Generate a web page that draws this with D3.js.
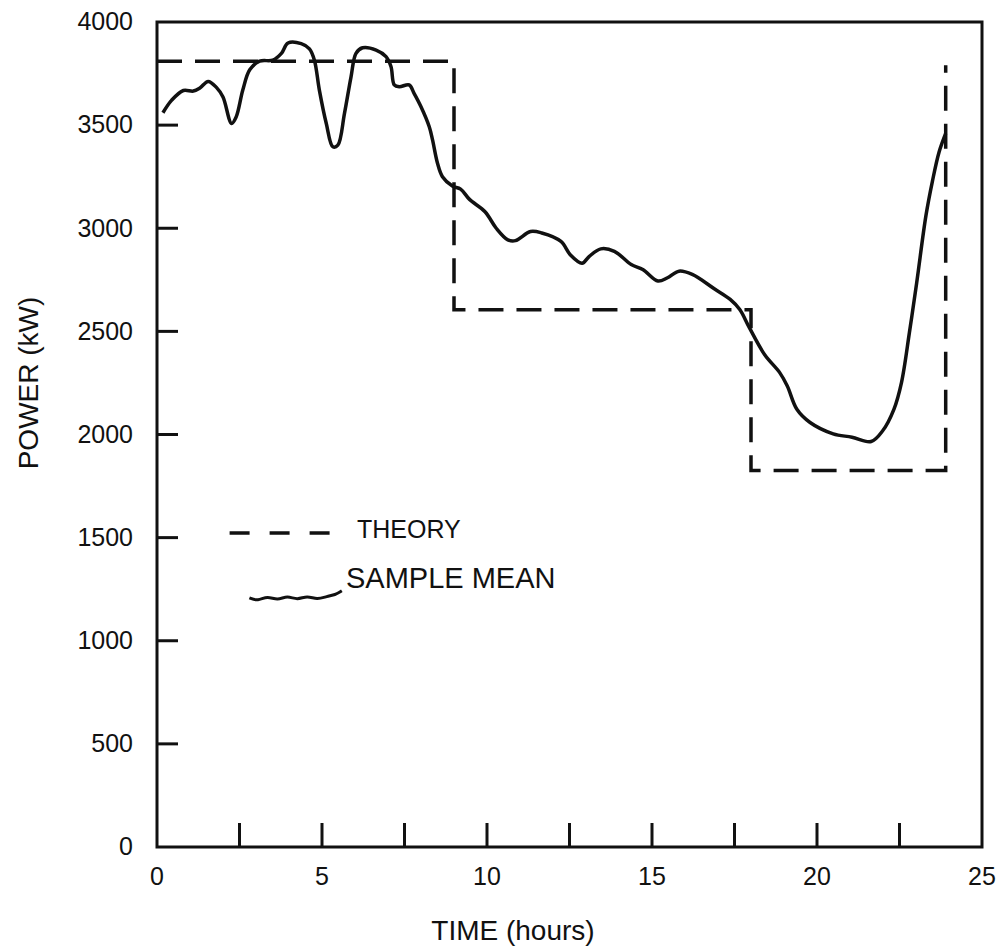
<!DOCTYPE html>
<html>
<head>
<meta charset="utf-8">
<script src="https://cdn.jsdelivr.net/npm/d3@7"></script>
<style>
  body { margin: 0; background: #fff; }
  text { font-family: "Liberation Sans", Arial, sans-serif; fill: #111; }
</style>
</head>
<body>
<div id="chart"></div>
<script>
// Theory (dashed step curve)
const theoryHours = [0, 9, 9, 18, 18, 23.9, 23.9];
const theoryPower = [3810, 3810, 2605, 2605, 1825, 1825, 3790];

// Sample mean (solid curve)
const sampleHours = [0.18, 0.44, 0.8, 1.1, 1.3, 1.55, 1.8, 2.0, 2.26, 2.4, 2.6, 2.81, 3.11, 3.51, 3.77, 3.97,
  4.37, 4.62, 4.77, 4.92, 5.13, 5.33, 5.48, 5.68, 5.88, 6.03, 6.23, 6.64, 6.94, 7.09, 7.19, 7.34, 7.64,
  7.79, 8.0, 8.25, 8.35, 8.5, 8.65, 8.95, 9.2, 9.47, 9.94, 10.28, 10.63, 10.86, 11.32, 11.66, 12.24,
  12.53, 12.88, 13.1, 13.45, 13.86, 14.37, 14.72, 15.18, 15.47, 15.82, 16.22, 16.91, 17.37, 17.66,
  17.95, 18.41, 18.87, 19.1, 19.39, 19.79, 20.49, 21.06, 21.64, 21.99, 22.33, 22.56, 22.8, 23.02,
  23.3, 23.5, 23.7, 23.9];
const samplePower = [3560, 3620, 3668, 3665, 3680, 3712, 3683, 3636, 3508, 3540, 3670, 3768, 3810, 3815, 3848, 3898,
  3895, 3870, 3815, 3670, 3508, 3395, 3403, 3556, 3734, 3848, 3875, 3864, 3832, 3784, 3695, 3686, 3695,
  3654, 3589, 3492, 3428, 3315, 3250, 3205, 3190, 3140, 3080, 3000, 2944, 2940, 2984, 2977, 2936,
  2870, 2830, 2864, 2900, 2888, 2824, 2800, 2744, 2760, 2792, 2776, 2704, 2655, 2606,
  2518, 2388, 2300, 2235, 2122, 2058, 2003, 1987, 1966, 2018, 2122, 2252, 2494, 2735,
  3060, 3230, 3370, 3460];

// Legend glyphs, in data units
const legendDashHours = [2.2, 5.25];
const legendDashPower = [1522, 1522];
const legendWaveHours = [2.8, 3.05, 3.35, 3.65, 3.95, 4.25, 4.55, 4.85, 5.15, 5.4, 5.6];
const legendWavePower = [1208, 1192, 1218, 1194, 1220, 1196, 1220, 1198, 1216, 1222, 1242];

// Tick values
const xTickLabels = [0, 5, 10, 15, 20, 25];
const xTickMarks = [2.5, 5, 7.5, 10, 12.5, 15, 17.5, 20, 22.5];
const yTickLabels = [0, 500, 1000, 1500, 2000, 2500, 3000, 3500, 4000];
const yTickMarks = [500, 1000, 1500, 2000, 2500, 3000, 3500];

const width = 1004;
const height = 950;
const margin = { top: 22, right: 22, bottom: 103, left: 157 };
const ink = "#111";

const svg = d3.select("#chart")
  .append("svg")
  .attr("width", width)
  .attr("height", height);

const x = d3.scaleLinear().domain([0, 25]).range([margin.left, width - margin.right]);
const y = d3.scaleLinear().domain([0, 4000]).range([height - margin.bottom, margin.top]);

const zip = (xs, ys) => xs.map((v, i) => [v, ys[i]]);

// Frame
svg.append("rect")
  .attr("x", x(0))
  .attr("y", y(4000))
  .attr("width", x(25) - x(0))
  .attr("height", y(0) - y(4000))
  .attr("fill", "none")
  .attr("stroke", ink)
  .attr("stroke-width", 3);

// Inner ticks
svg.append("g")
  .selectAll("line")
  .data(xTickMarks)
  .join("line")
  .attr("x1", d => x(d))
  .attr("x2", d => x(d))
  .attr("y1", y(0))
  .attr("y2", y(0) - 24)
  .attr("stroke", ink)
  .attr("stroke-width", 3);

svg.append("g")
  .selectAll("line")
  .data(yTickMarks)
  .join("line")
  .attr("x1", x(0))
  .attr("x2", x(0) + 21)
  .attr("y1", d => y(d))
  .attr("y2", d => y(d))
  .attr("stroke", ink)
  .attr("stroke-width", 3);

// Tick labels
svg.append("g")
  .selectAll("text")
  .data(xTickLabels)
  .join("text")
  .attr("x", d => x(d))
  .attr("y", y(0) + 38)
  .attr("text-anchor", "middle")
  .style("font-size", "25px")
  .text(d => d);

svg.append("g")
  .selectAll("text")
  .data(yTickLabels)
  .join("text")
  .attr("x", x(0) - 24)
  .attr("y", d => y(d))
  .attr("dy", "0.33em")
  .attr("text-anchor", "end")
  .style("font-size", "25px")
  .text(d => d);

// Axis titles
svg.append("text")
  .attr("x", 513)
  .attr("y", 940)
  .attr("text-anchor", "middle")
  .style("font-size", "28px")
  .text("TIME (hours)");

svg.append("text")
  .attr("transform", "rotate(-90)")
  .attr("x", -383)
  .attr("y", 38)
  .attr("text-anchor", "middle")
  .style("font-size", "28px")
  .text("POWER (kW)");

// Curves
const line = d3.line()
  .x(d => x(d[0]))
  .y(d => y(d[1]));

svg.append("path")
  .datum(zip(theoryHours, theoryPower))
  .attr("fill", "none")
  .attr("stroke", ink)
  .attr("stroke-width", 3.5)
  .attr("stroke-dasharray", "25,13")
  .attr("d", line);

svg.append("path")
  .datum(zip(sampleHours, samplePower))
  .attr("fill", "none")
  .attr("stroke", ink)
  .attr("stroke-width", 3.5)
  .attr("stroke-linejoin", "round")
  .attr("d", line.curve(d3.curveCatmullRom.alpha(0.5)));

// Legend
svg.append("path")
  .datum(zip(legendDashHours, legendDashPower))
  .attr("fill", "none")
  .attr("stroke", ink)
  .attr("stroke-width", 3.5)
  .attr("stroke-dasharray", "20,20")
  .attr("d", d3.line().x(d => x(d[0])).y(d => y(d[1])));

svg.append("text")
  .attr("x", 357)
  .attr("y", 538)
  .style("font-size", "25px")
  .text("THEORY");

svg.append("path")
  .datum(zip(legendWaveHours, legendWavePower))
  .attr("fill", "none")
  .attr("stroke", ink)
  .attr("stroke-width", 3)
  .attr("d", d3.line().x(d => x(d[0])).y(d => y(d[1])).curve(d3.curveBasis));

svg.append("text")
  .attr("x", 346)
  .attr("y", 588)
  .style("font-size", "29px")
  .text("SAMPLE MEAN");
</script>
</body>
</html>
